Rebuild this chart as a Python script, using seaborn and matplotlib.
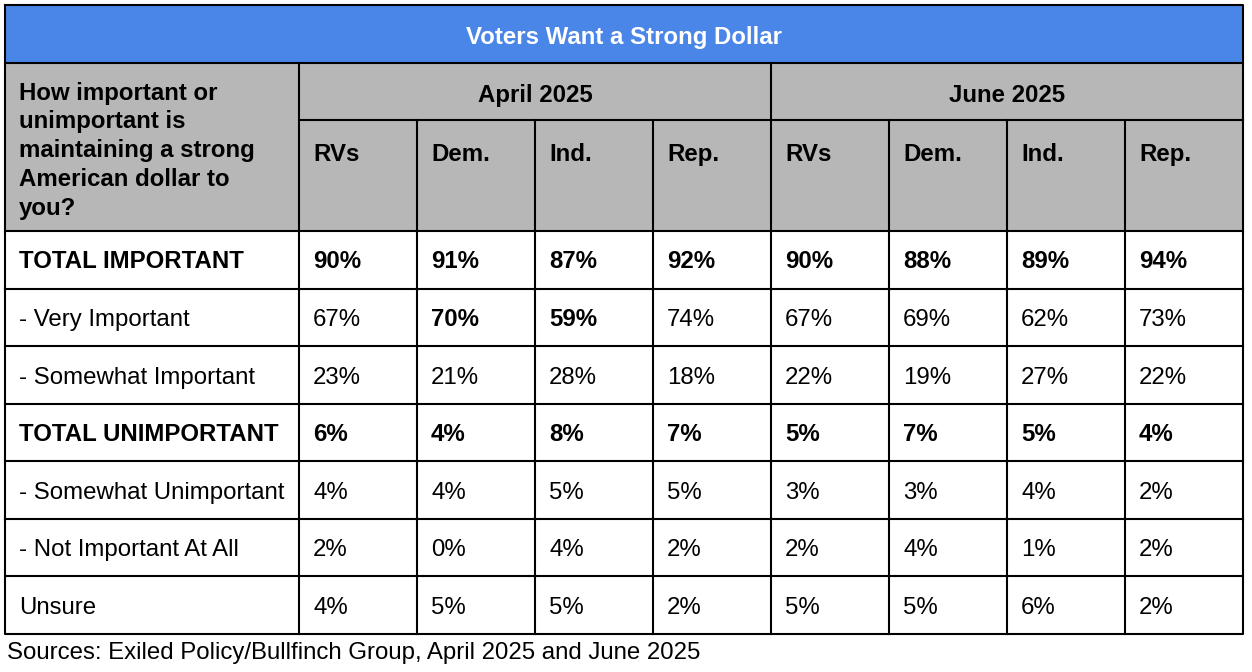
import matplotlib
matplotlib.use("Agg")
import matplotlib.pyplot as plt
from matplotlib.colors import ListedColormap
from matplotlib.patches import Rectangle
import numpy as np
import seaborn as sns

sns.set_theme(style="white")
plt.rcParams['font.family'] = ['Liberation Sans', 'DejaVu Sans']

# ---------------- data ----------------
title = "Voters Want a Strong Dollar"
question_lines = ["How important or", "unimportant is", "maintaining a strong",
                  "American dollar to", "you?"]
periods = ["April 2025", "June 2025"]
groups = ["RVs", "Dem.", "Ind.", "Rep."]
row_labels = ["TOTAL IMPORTANT", "- Very Important", "- Somewhat Important",
              "TOTAL UNIMPORTANT", "- Somewhat Unimportant", "- Not Important At All",
              "Unsure"]
april = [[90, 91, 87, 92],
         [67, 70, 59, 74],
         [23, 21, 28, 18],
         [6, 4, 8, 7],
         [4, 4, 5, 5],
         [2, 0, 4, 2],
         [4, 5, 5, 2]]
june = [[90, 88, 89, 94],
        [67, 69, 62, 73],
        [22, 19, 27, 22],
        [5, 7, 5, 4],
        [3, 3, 4, 2],
        [2, 4, 1, 2],
        [5, 5, 6, 2]]
bold_rows = [0, 3]
bold_cells = [(1, 1), (1, 2)]  # (row, column index across 8 columns)
source = "Sources: Exiled Policy/Bullfinch Group, April 2025 and June 2025"

# ---------------- layout (pixels) ----------------
W, H = 1252, 672
L, R = 5, 1243
T = 5
Y_TITLE = 62.5
Y_HDR1 = 120
Y_HDR = 231
B = 634
X_C1 = 299
BLUE = "#4a86e8"
GRAY = "#b7b7b7"
FPX = 24
FS = FPX * 0.72
LW = 1.5
CAP = 0.358 * FPX


def txt(ax, x, yc, s, bold=False, color="black", ha="left"):
    ax.text(x, yc + CAP, s, fontsize=FS, fontweight="bold" if bold else "normal",
            color=color, ha=ha, va="baseline")


fig = plt.figure(figsize=(W / 100, H / 100), dpi=100)
fig.patch.set_facecolor("white")

values = np.hstack([np.array(april), np.array(june)])
n_rows, n_cols = values.shape

# data grid via seaborn heatmap (white cells, grid drawn on overlay)
axd = fig.add_axes([X_C1 / W, 1 - B / H, (R - X_C1) / W, (B - Y_HDR) / H])
axd.set_zorder(0)
sns.heatmap(values, ax=axd, cmap=ListedColormap(["white"]), cbar=False,
            linewidths=0, xticklabels=False, yticklabels=False)
cell_w = (R - X_C1) / n_cols
row_h = (B - Y_HDR) / n_rows
pad = 14 / cell_w
for i in range(n_rows):
    for j in range(n_cols):
        b = (i in bold_rows) or ((i, j) in bold_cells)
        axd.text(j + pad, i + 0.5 + CAP / row_h, f"{values[i, j]}%",
                 fontsize=FS, fontweight="bold" if b else "normal",
                 ha="left", va="baseline", color="black")

# main overlay axes in pixel coordinates
ax = fig.add_axes([0, 0, 1, 1])
ax.set_zorder(1)
ax.set_xlim(0, W)
ax.set_ylim(H, 0)
ax.axis("off")
ax.patch.set_alpha(0)

ax.add_patch(Rectangle((L, T), R - L, Y_TITLE - T, facecolor=BLUE, edgecolor="none"))
ax.add_patch(Rectangle((L, Y_TITLE), R - L, Y_HDR - Y_TITLE, facecolor=GRAY, edgecolor="none"))

col_x = [X_C1 + k * cell_w for k in range(n_cols + 1)]

# lines
kw = dict(color="black", lw=LW, solid_capstyle="projecting")
ax.plot([L, R, R, L, L], [T, T, B, B, T], **kw)
ax.plot([L, R], [Y_TITLE, Y_TITLE], **kw)
ax.plot([X_C1, R], [Y_HDR1, Y_HDR1], **kw)
ax.plot([L, R], [Y_HDR, Y_HDR], **kw)
for i in range(1, n_rows):
    y = Y_HDR + i * row_h
    ax.plot([L, R], [y, y], **kw)
ax.plot([X_C1, X_C1], [Y_TITLE, B], **kw)
ax.plot([col_x[4], col_x[4]], [Y_TITLE, B], **kw)
for k in range(1, n_cols):
    if k != 4:
        ax.plot([col_x[k], col_x[k]], [Y_HDR1, B], **kw)

# texts
txt(ax, (L + R) / 2, 35, title, bold=True, color="white", ha="center")
for k, line in enumerate(question_lines):
    txt(ax, 19, 91 + k * 28.75, line, bold=True)
for p, name in enumerate(periods):
    txt(ax, (col_x[4 * p] + col_x[4 * p + 4]) / 2, 93, name, bold=True, ha="center")
    for g, gname in enumerate(groups):
        txt(ax, col_x[4 * p + g] + 14, 152, gname, bold=True)
for i, lab in enumerate(row_labels):
    txt(ax, 19, Y_HDR + (i + 0.5) * row_h, lab, bold=(i in bold_rows))
txt(ax, 7, 650, source)

fig.savefig("out.png", dpi=100, facecolor="white")
